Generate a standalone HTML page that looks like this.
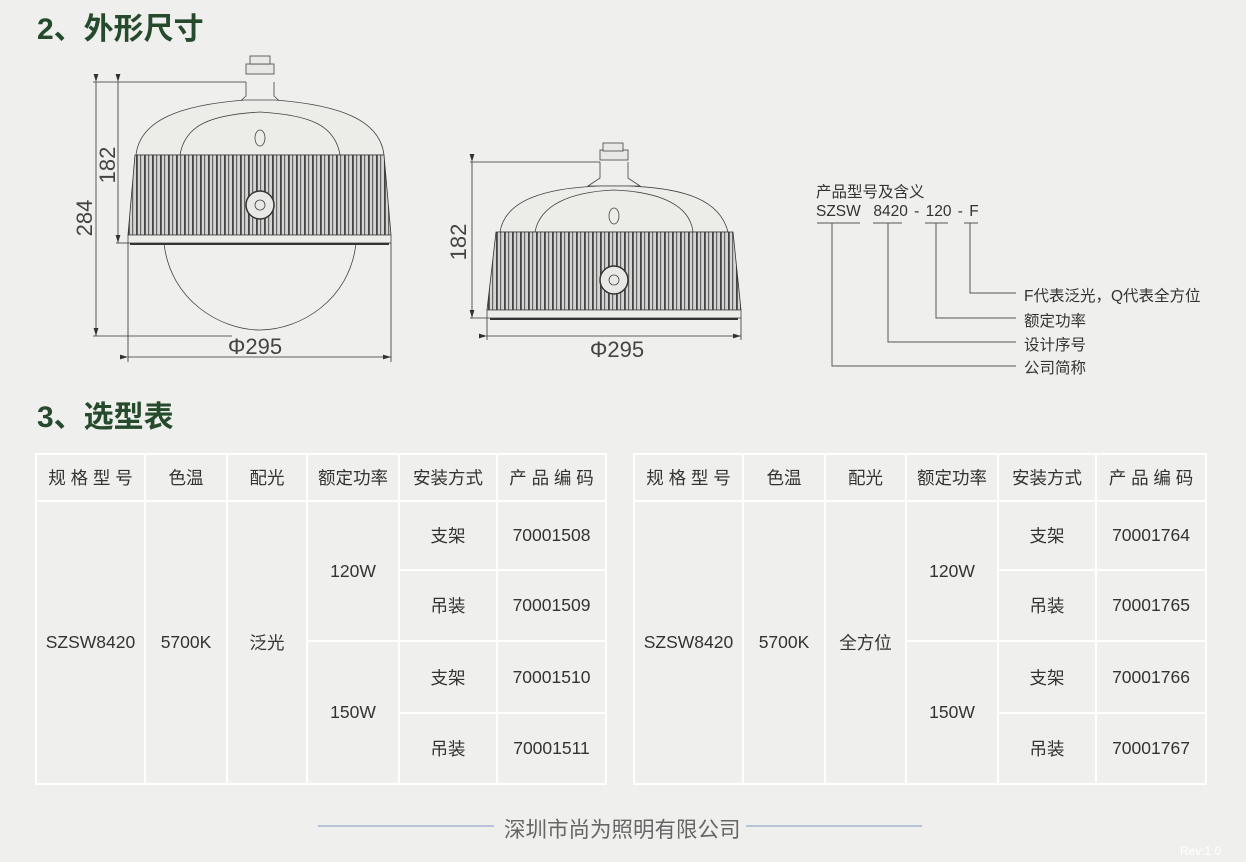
<!DOCTYPE html>
<html><head><meta charset="utf-8">
<style>
*{margin:0;padding:0;box-sizing:border-box}
body{width:1246px;height:862px;background:#efefed;position:relative;overflow:hidden;font-family:"Liberation Sans","Noto Sans CJK SC",sans-serif;color:#333}
.h{position:absolute;left:37px;font-size:30px;font-weight:bold;color:#254a2c;font-family:"Liberation Sans","Noto Sans CJK SC",sans-serif}
.t{position:absolute;font-size:15.5px;color:#333;white-space:nowrap}
table{position:absolute;border-collapse:collapse;top:453px}
td{border:2px solid #fff;text-align:center;font-size:17.5px;color:#333;padding:0}
tr.hd td{height:47px;letter-spacing:0}
</style></head><body>
<div class="h" style="top:4px">2、外形尺寸</div>
<div class="h" style="top:392px">3、选型表</div>

<svg width="1246" height="862" style="position:absolute;left:0;top:0" xmlns="http://www.w3.org/2000/svg">
<defs>
<pattern id="fin" width="8" height="10" patternUnits="userSpaceOnUse">
<rect width="8" height="10" fill="#d4d4d2"/><rect x="0" width="1.8" height="10" fill="#444"/><rect x="4" width="1.2" height="10" fill="#666"/>
</pattern>
<marker id="ar" markerWidth="10" markerHeight="6" refX="10" refY="3" orient="auto"><path d="M0,0 L10,3 L0,6 Z" fill="#333"/></marker>
</defs>
<g stroke="#444" fill="none" stroke-width="0.8">
<!-- lamp 1 -->
<rect x="246" y="64" width="28" height="10" fill="#e8e8e6"/>
<rect x="250" y="56" width="20" height="8" fill="#e8e8e6"/>
<path d="M246,82 L246,96 L236,105 L284,105 L274,96 L274,82"/>
<path d="M136,155 C140,120 180,105 245,100 L275,100 C340,105 380,120 384,155 Z" fill="#ecece9"/>
<path d="M180,155 C185,125 210,115 260,112 C310,115 335,125 340,155"/>
<ellipse cx="260" cy="138" rx="5" ry="8"/>
<path d="M135,155 L384,155 L391,235 L128,235 Z" fill="url(#fin)" stroke="#333"/>
<circle cx="260" cy="205" r="14" fill="#e8e8e6" stroke="#333" stroke-width="1.5"/>
<circle cx="260" cy="205" r="5"/>
<rect x="128" y="235" width="263" height="8" fill="#ecece9"/>
<line x1="130" y1="244" x2="389" y2="244" stroke="#333" stroke-width="2"/>
<path d="M164,243 C170,300 220,330 260,330 C300,330 350,300 356,243"/>
<!-- lamp 2 -->
<rect x="600" y="150" width="28" height="10" fill="#e8e8e6"/>
<rect x="603" y="143" width="20" height="8" fill="#e8e8e6"/>
<path d="M600,162 L600,178 L588,186 L640,186 L628,178 L628,162"/>
<path d="M500,232 C505,200 545,188 600,186 L628,186 C685,188 720,200 728,232 Z" fill="#ecece9"/>
<path d="M535,232 C540,205 570,192 614,190 C660,192 690,205 693,232"/>
<ellipse cx="614" cy="216" rx="5" ry="8"/>
<path d="M496,232 L733,232 L741,310 L487,310 Z" fill="url(#fin)" stroke="#333"/>
<circle cx="614" cy="280" r="14" fill="#e8e8e6" stroke="#333" stroke-width="1.5"/>
<circle cx="614" cy="280" r="5"/>
<rect x="487" y="310" width="254" height="8" fill="#ecece9"/>
<line x1="490" y1="319" x2="738" y2="319" stroke="#333" stroke-width="2"/>
</g>
<!-- dimensions -->
<g stroke="#333" stroke-width="0.8" fill="none">
<line x1="93" y1="82" x2="246" y2="82"/>
<line x1="93" y1="336" x2="232" y2="336"/>
<line x1="96" y1="82" x2="96" y2="336" marker-start="url(#ar)" marker-end="url(#ar)"/>
<line x1="118" y1="82" x2="118" y2="243" marker-start="url(#ar)" marker-end="url(#ar)"/>
<line x1="116" y1="243" x2="128" y2="243"/>
<line x1="128" y1="243" x2="128" y2="362"/>
<line x1="391" y1="243" x2="391" y2="362"/>
<line x1="128" y1="357" x2="391" y2="357" marker-start="url(#ar)" marker-end="url(#ar)"/>
<line x1="470" y1="162" x2="600" y2="162"/>
<line x1="470" y1="318" x2="487" y2="318"/>
<line x1="472" y1="162" x2="472" y2="318" marker-start="url(#ar)" marker-end="url(#ar)"/>
<line x1="487" y1="318" x2="487" y2="340"/>
<line x1="741" y1="318" x2="741" y2="340"/>
<line x1="487" y1="336" x2="741" y2="336" marker-start="url(#ar)" marker-end="url(#ar)"/>
</g>
<g font-family="Liberation Sans,sans-serif" font-size="22" fill="#444">
<text x="255" y="354" text-anchor="middle">Φ295</text>
<text x="617" y="357" text-anchor="middle">Φ295</text>
<text transform="translate(92,218) rotate(-90)" text-anchor="middle">284</text>
<text transform="translate(115,165) rotate(-90)" text-anchor="middle">182</text>
<text transform="translate(466,242) rotate(-90)" text-anchor="middle">182</text>
</g>
<!-- model legend -->
<g stroke="#555" stroke-width="1" fill="none">
<line x1="817" y1="223" x2="860" y2="223"/>
<line x1="873" y1="223" x2="902" y2="223"/>
<line x1="925" y1="223" x2="948" y2="223"/>
<line x1="964" y1="223" x2="978" y2="223"/>
<polyline points="970,223 970,293 1016,293"/>
<polyline points="936,223 936,318 1016,318"/>
<polyline points="888,223 888,342 1016,342"/>
<polyline points="832,223 832,366 1016,366"/>
</g>
<line x1="318" y1="826" x2="494" y2="826" stroke="#7f93c8" stroke-width="1"/>
<line x1="746" y1="826" x2="922" y2="826" stroke="#7f93c8" stroke-width="1"/>
</svg>

<div class="t" style="left:816px;top:180px">产品型号及含义</div>
<div class="t" style="left:816px;top:203px;word-spacing:2px">SZSW&nbsp; 8420 - 120 - F</div>
<div class="t" style="left:1024px;top:284px">F代表泛光，Q代表全方位</div>
<div class="t" style="left:1024px;top:309px">额定功率</div>
<div class="t" style="left:1024px;top:333px">设计序号</div>
<div class="t" style="left:1024px;top:356px">公司简称</div>

<table style="left:35px;width:572px">
<colgroup><col style="width:109px"><col style="width:82px"><col style="width:80px"><col style="width:92px"><col style="width:98px"><col style="width:109px"></colgroup>
<tr class="hd"><td>规 格 型 号</td><td>色温</td><td>配光</td><td>额定功率</td><td>安装方式</td><td>产 品 编 码</td></tr>
<tr style="height:69px"><td rowspan="4">SZSW8420</td><td rowspan="4">5700K</td><td rowspan="4">泛光</td><td rowspan="2">120W</td><td>支架</td><td>70001508</td></tr>
<tr style="height:71px"><td>吊装</td><td>70001509</td></tr>
<tr style="height:72px"><td rowspan="2">150W</td><td>支架</td><td>70001510</td></tr>
<tr style="height:71px"><td>吊装</td><td>70001511</td></tr>
</table>
<table style="left:633px;width:574px">
<colgroup><col style="width:109px"><col style="width:82px"><col style="width:81px"><col style="width:92px"><col style="width:98px"><col style="width:110px"></colgroup>
<tr class="hd"><td>规 格 型 号</td><td>色温</td><td>配光</td><td>额定功率</td><td>安装方式</td><td>产 品 编 码</td></tr>
<tr style="height:69px"><td rowspan="4">SZSW8420</td><td rowspan="4">5700K</td><td rowspan="4">全方位</td><td rowspan="2">120W</td><td>支架</td><td>70001764</td></tr>
<tr style="height:71px"><td>吊装</td><td>70001765</td></tr>
<tr style="height:72px"><td rowspan="2">150W</td><td>支架</td><td>70001766</td></tr>
<tr style="height:71px"><td>吊装</td><td>70001767</td></tr>
</table>

<div class="t" style="left:504px;top:813px;font-size:21.5px;color:#666">深圳市尚为照明有限公司</div>
<div class="t" style="left:1180px;top:844px;font-size:12px;color:#fff">Rev:1.0</div>
</body></html>
